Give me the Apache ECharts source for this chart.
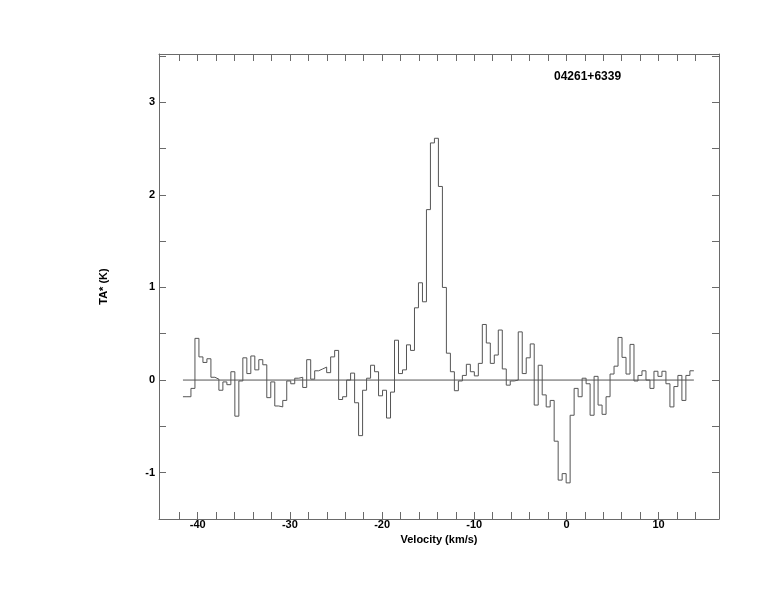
<!DOCTYPE html>
<html>
<head>
<meta charset="utf-8">
<script src="https://cdn.jsdelivr.net/npm/echarts@6/dist/echarts.min.js"></script>
<style>
html,body{margin:0;padding:0;background:#fff;}
#chart{width:774px;height:612px;}
</style>
</head>
<body>
<div id="chart"></div>
<script>
// ---- data ----
const sourceName = '04261+6339';
const velStart = -41.6;      // left edge of first channel (km/s)
const chanWidth = 0.433;     // channel width (km/s)
const channelValues = [
  -0.18, -0.18, -0.09, 0.45, 0.25, 0.19, 0.23, 0.03, 0.01, -0.11,
  -0.02, -0.05, 0.09, -0.39, -0.01, 0.24, 0.07, 0.26, 0.11, 0.22,
  0.165, -0.19, -0.02, -0.28, -0.29, -0.22, -0.01, -0.04, 0.02, 0.03,
  -0.08, 0.22, 0.01, 0.10, 0.12, 0.14, 0.08, 0.25, 0.32, -0.21,
  -0.18, 0.00, 0.075, -0.245, -0.60, -0.11, 0.02, 0.16, 0.09, -0.17,
  -0.11, -0.41, -0.13, 0.43, 0.07, 0.11, 0.38, 0.32, 0.78, 1.05,
  0.845, 1.84, 2.56, 2.61, 2.09, 1.00, 0.29, 0.09, -0.115, -0.01,
  0.05, 0.17, 0.09, 0.045, 0.18, 0.60, 0.40, 0.18, 0.27, 0.54,
  0.12, -0.055, -0.01, 0.0, 0.52, 0.07, 0.24, 0.39, -0.27, 0.16,
  -0.16, -0.29, -0.22, -0.66, -1.08, -1.01, -1.11, -0.38, -0.09, -0.18,
  0.02, -0.04, -0.38, 0.04, -0.27, -0.37, -0.18, 0.065, 0.15, 0.46,
  0.245, 0.065, 0.385, -0.01, 0.05, 0.10, 0.0, -0.09, 0.095, 0.04,
  0.095, -0.04, -0.29, -0.07, 0.05, -0.22, 0.05, 0.10
];
const xTicks = [-42,-40,-38,-36,-34,-32,-30,-28,-26,-24,-22,-20,-18,-16,-14,-12,-10,-8,-6,-4,-2,0,2,4,6,8,10,12,14];
const xLabels = [-40,-30,-20,-10,0,10];
const yTicks = [-1.5,-1,-0.5,0,0.5,1,1.5,2,2.5,3,3.5];
const yLabels = [-1,0,1,2,3];
const xRange = [-44.2, 16.55];
const yRange = [-1.5, 3.52];

// ---- build step series (left channel edges, last point closes final channel) ----
const stepData = channelValues.map((v, i) => [velStart + i * chanWidth, v]);
const velEnd = velStart + channelValues.length * chanWidth;
stepData.push([velEnd, channelValues[channelValues.length - 1]]);
const baseline = [[velStart, 0], [velEnd, 0]];

const axisColor = '#6a6a6a';
const lineColor = '#555555';
const font = 'Liberation Sans, Arial, Helvetica, sans-serif';

function xAx(pos, showLabels) {
  return {
    type: 'value', position: pos, min: xRange[0], max: xRange[1],
    axisLine: {show: true, onZero: false, lineStyle: {color: axisColor, width: 1}},
    axisTick: {show: true, inside: true, length: 7, customValues: xTicks, lineStyle: {color: axisColor}},
    axisLabel: {show: showLabels, customValues: xLabels, margin: 0, color: '#000', fontWeight: 'bold', fontSize: 11, fontFamily: font},
    splitLine: {show: false},
    name: showLabels ? 'Velocity (km/s)' : '',
    nameLocation: 'middle', nameGap: 9,
    nameTextStyle: {color: '#000', fontWeight: 'bold', fontSize: 11, fontFamily: font}
  };
}
function yAx(pos, showLabels) {
  return {
    type: 'value', position: pos, min: yRange[0], max: yRange[1],
    axisLine: {show: true, onZero: false, lineStyle: {color: axisColor, width: 1}},
    axisTick: {show: true, inside: true, length: 7, customValues: yTicks, lineStyle: {color: axisColor}},
    axisLabel: {show: showLabels, customValues: yLabels, margin: 4, color: '#000', fontWeight: 'bold', fontSize: 11, fontFamily: font},
    splitLine: {show: false},
    name: showLabels ? 'TA* (K)' : '',
    nameLocation: 'middle', nameRotate: 90, nameGap: 50,
    nameTextStyle: {color: '#000', fontWeight: 'bold', fontSize: 11, fontFamily: font}
  };
}

const chart = echarts.init(document.getElementById('chart'), null, {renderer: 'canvas'});
chart.setOption({
  backgroundColor: '#ffffff',
  animation: false,
  title: {
    text: sourceName, left: 554, top: 71, padding: 0,
    textStyle: {color: '#000', fontWeight: 'bold', fontSize: 12, fontFamily: font}
  },
  grid: {left: 159, right: 55, top: 54, bottom: 93, containLabel: false},
  xAxis: [xAx('bottom', true), xAx('top', false)],
  yAxis: [yAx('left', true), yAx('right', false)],
  series: [
    {
      type: 'line', name: 'baseline', data: baseline, xAxisIndex: 0, yAxisIndex: 0,
      symbol: 'none', silent: true,
      lineStyle: {color: lineColor, width: 1}
    },
    {
      type: 'line', name: sourceName, data: stepData, xAxisIndex: 0, yAxisIndex: 0,
      step: 'end', symbol: 'none',
      lineStyle: {color: lineColor, width: 1}
    }
  ]
});
</script>
</body>
</html>
